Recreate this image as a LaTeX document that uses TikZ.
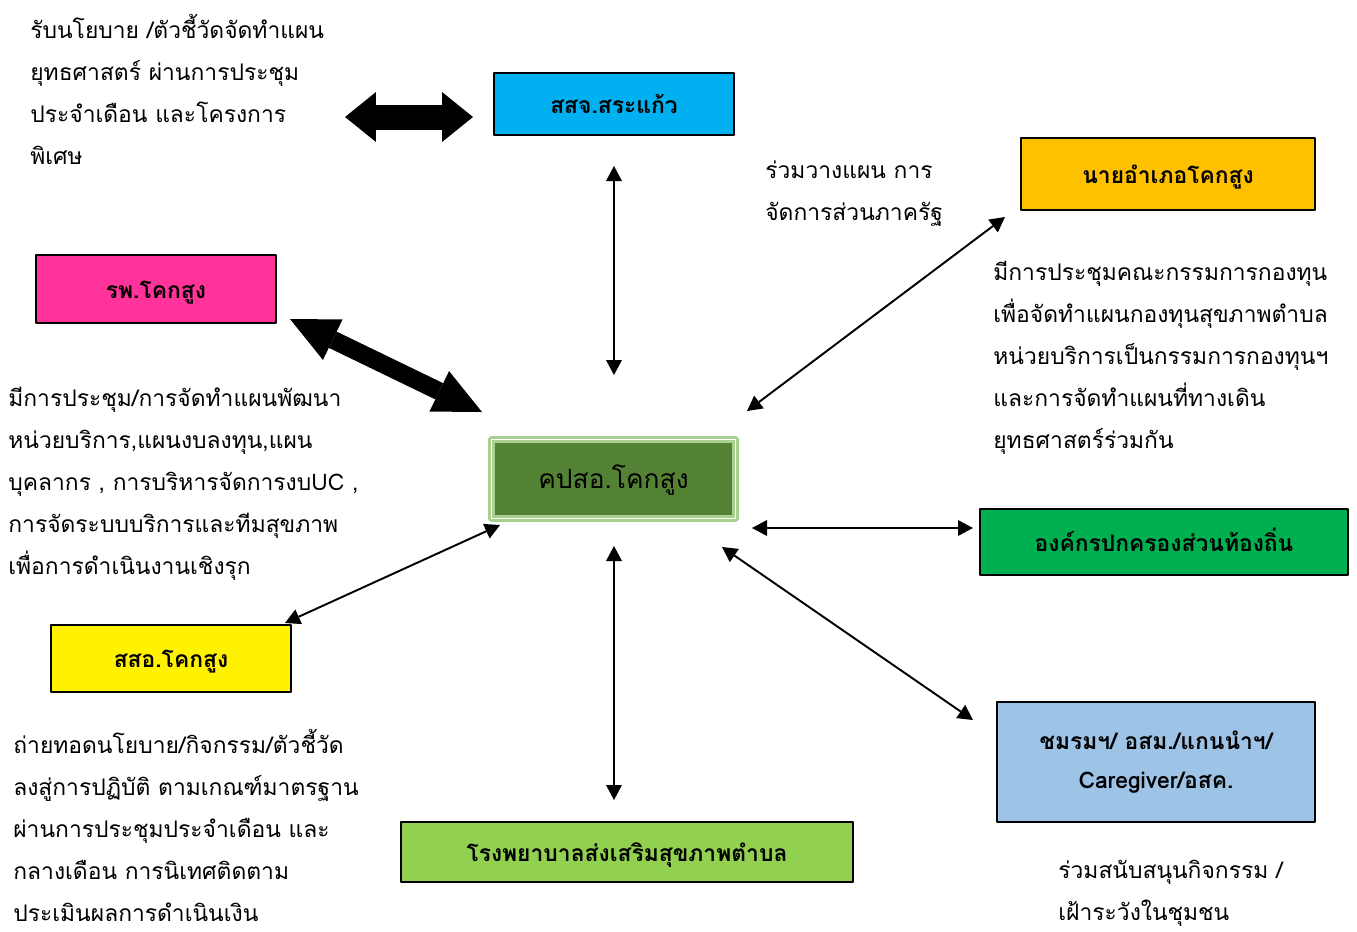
\documentclass[tikz,border=0pt]{standalone}
\usepackage{fontspec}
\newfontfamily\thaifont[Script=Thai]{Loma}
\usetikzlibrary{arrows.meta}

\begin{document}
\begin{tikzpicture}[x=0.02cm, y=-0.02cm, line join=round,
  box/.style={draw, line width=1pt, inner sep=0pt, align=center,
    font=\thaifont\bfseries\fontsize{13}{22}\selectfont},
  onerow/.style={text height=1.3em, text depth=0.25em},
  note/.style={anchor=north west, inner sep=0pt, align=left,
    font=\thaifont\fontsize{13}{23.9}\selectfont},
  link/.style={line width=1.1pt,
    {Triangle[length=0.3cm,width=0.32cm,line width=0pt]}-{Triangle[length=0.3cm,width=0.32cm,line width=0pt]}}]
  \definecolor{sskjcyan}{HTML}{00B0F0}
  \definecolor{naiorange}{HTML}{FFC000}
  \definecolor{rppink}{HTML}{FF3399}
  \definecolor{kpsdark}{HTML}{548235}
  \definecolor{kpslight}{HTML}{A9D08E}
  \definecolor{aogreen}{HTML}{00B050}
  \definecolor{chomblue}{HTML}{9DC3E6}
  \definecolor{rpslime}{HTML}{92D050}
  \useasboundingbox (0,0) rectangle (1357,931);

  % boxes
  \node[box, onerow, fill=sskjcyan, minimum width=4.8cm, minimum height=1.24cm] (sskj) at (614,104) {สสจ.สระแก้ว};
  \node[box, onerow, fill=naiorange, minimum width=5.88cm, minimum height=1.44cm] (nai) at (1168,174) {นายอำเภอโคกสูง};
  \node[box, onerow, fill=rppink, minimum width=4.8cm, minimum height=1.36cm] (rp) at (156,289) {รพ.โคกสูง};
  \node[box, onerow, fill=kpsdark, draw=kpslight, double=white, double distance=0.5pt, line width=1.6pt,
    minimum width=4.88cm, minimum height=1.58cm, font=\thaifont\fontsize{15}{20}\selectfont] (kps) at (613.5,479) {คปสอ.โคกสูง};
  \node[box, onerow, fill=aogreen, minimum width=7.36cm, minimum height=1.32cm] (ao) at (1164,542) {องค์กรปกครองส่วนท้องถิ่น};
  \node[box, onerow, fill=yellow, minimum width=4.8cm, minimum height=1.34cm] (sso) at (171,658.5) {สสอ.โคกสูง};
  \node[box, fill=chomblue, minimum width=6.36cm, minimum height=2.4cm] (chom) at (1156,762) {ชมรมฯ/ อสม./แกนนำฯ/\\Caregiver/อสค.};
  \node[box, onerow, fill=rpslime, minimum width=9.04cm, minimum height=1.2cm] (rps) at (627,852) {โรงพยาบาลส่งเสริมสุขภาพตำบล};

  % notes
  \node[note] (policy) at (30,14) {รับนโยบาย /ตัวชี้วัดจัดทำแผน\\ยุทธศาสตร์ ผ่านการประชุม\\ประจำเดือน และโครงการ\\พิเศษ};
  \node[note] (plan) at (765,160) {ร่วมวางแผน การ\\จัดการส่วนภาครัฐ};
  \node[note] (fund) at (993,261) {มีการประชุมคณะกรรมการกองทุน\\เพื่อจัดทำแผนกองทุนสุขภาพตำบล\\หน่วยบริการเป็นกรรมการกองทุนฯ\\และการจัดทำแผนที่ทางเดิน\\ยุทธศาสตร์ร่วมกัน};
  \node[note] (devplan) at (8,387) {มีการประชุม/การจัดทำแผนพัฒนา\\หน่วยบริการ,แผนงบลงทุน,แผน\\บุคลากร , การบริหารจัดการงบUC ,\\การจัดระบบบริการและทีมสุขภาพ\\เพื่อการดำเนินงานเชิงรุก};
  \node[note] (transfer) at (13,729) {ถ่ายทอดนโยบาย/กิจกรรม/ตัวชี้วัด\\ลงสู่การปฏิบัติ ตามเกณฑ์มาตรฐาน\\ผ่านการประชุมประจำเดือน และ\\กลางเดือน การนิเทศติดตาม\\ประเมินผลการดำเนินเงิน};
  \node[note] (support) at (1058,860) {ร่วมสนับสนุนกิจกรรม /\\เฝ้าระวังในชุมชน};

  % connector ends
  \coordinate (policyR) at (345,117);
  \coordinate (sskjL) at (473,117);
  \coordinate (rpE) at (290,319);
  \coordinate (kpsNW) at (482,412);
  \coordinate (sskjS) at (614,166);
  \coordinate (kpsN) at (614,375);
  \coordinate (kpsNE) at (747,411);
  \coordinate (naiSW) at (1005,217);
  \coordinate (kpsE) at (752,528);
  \coordinate (aoW) at (973,528);
  \coordinate (kpsSE) at (722,547);
  \coordinate (chomNW) at (973,720);
  \coordinate (kpsS) at (614,546);
  \coordinate (rpsN) at (614,800);
  \coordinate (kpsSW) at (500,525);
  \coordinate (ssoNE) at (285,623);

  % fat arrows
  \draw[line width=0.5cm, {Triangle[length=0.62cm,width=1cm,line width=0pt]}-{Triangle[length=0.62cm,width=1cm,line width=0pt]}] (policyR) -- (sskjL);
  \draw[line width=0.36cm, {Triangle[length=0.95cm,width=0.9cm,line width=0pt]}-{Triangle[length=0.95cm,width=0.9cm,line width=0pt]}] (rpE) -- (kpsNW);

  % thin arrows
  \foreach \u/\v in {sskjS/kpsN, kpsNE/naiSW, kpsE/aoW, kpsSE/chomNW, kpsS/rpsN, kpsSW/ssoNE}{
    \draw[link] (\u) -- (\v);
  }
\end{tikzpicture}
\end{document}
